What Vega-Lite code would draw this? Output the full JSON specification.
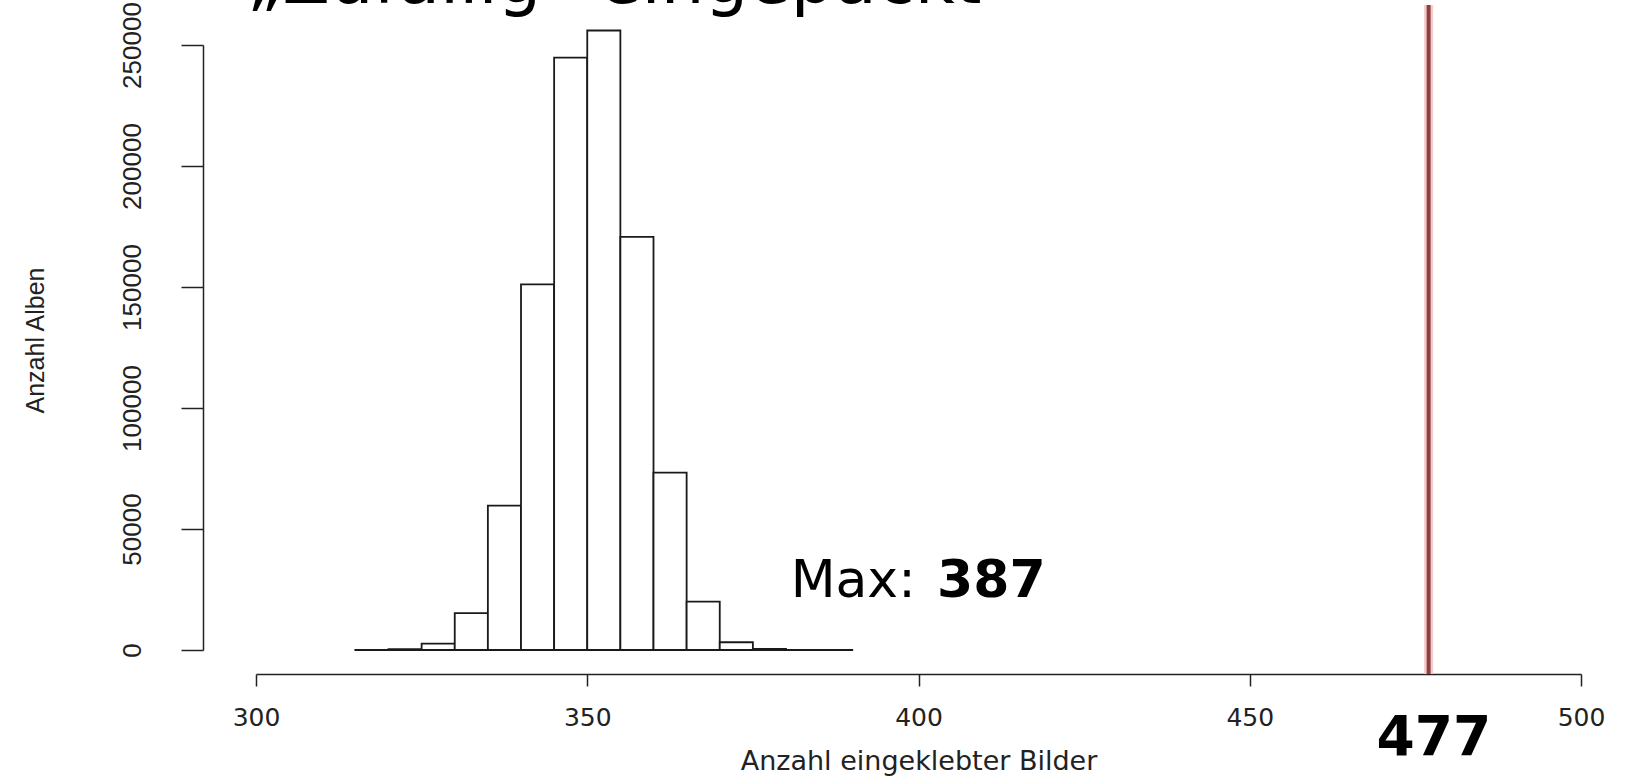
{
  "$schema": "https://vega.github.io/schema/vega-lite/v6.json",
  "width": 1325,
  "height": 605,
  "autosize": {"type": "none"},
  "padding": {"left": 256, "top": 45, "right": 44, "bottom": 127},
  "background": "white",
  "config": {"view": {"stroke": null}, "font": "DejaVu Sans"},
  "datasets": {
    "bins": [
      {"bin_start": 315, "bin_end": 320, "count": 20},
      {"bin_start": 320, "bin_end": 325, "count": 300},
      {"bin_start": 325, "bin_end": 330, "count": 2600},
      {"bin_start": 330, "bin_end": 335, "count": 15200},
      {"bin_start": 335, "bin_end": 340, "count": 59700},
      {"bin_start": 340, "bin_end": 345, "count": 151100},
      {"bin_start": 345, "bin_end": 350, "count": 244800},
      {"bin_start": 350, "bin_end": 355, "count": 256000},
      {"bin_start": 355, "bin_end": 360, "count": 170700},
      {"bin_start": 360, "bin_end": 365, "count": 73300},
      {"bin_start": 365, "bin_end": 370, "count": 20000},
      {"bin_start": 370, "bin_end": 375, "count": 3200},
      {"bin_start": 375, "bin_end": 380, "count": 450},
      {"bin_start": 380, "bin_end": 385, "count": 40},
      {"bin_start": 385, "bin_end": 390, "count": 3}
    ]
  },
  "layer": [
    {
      "data": {"name": "bins"},
      "mark": {"type": "bar", "fill": "white", "stroke": "#1a1a1a", "strokeWidth": 1.8},
      "encoding": {
        "x": {
          "field": "bin_start", "type": "quantitative",
          "scale": {"domain": [300, 500], "nice": false, "zero": false},
          "axis": {
            "values": [300, 350, 400, 450, 500],
            "offset": 24, "grid": false, "labelFlush": false,
            "domainColor": "#222222", "domainWidth": 1.5,
            "tickColor": "#222222", "tickWidth": 1.5, "tickSize": 12,
            "labelFont": "DejaVu Sans", "labelFontSize": 25, "labelPadding": 19, "labelColor": "#222222",
            "title": "Anzahl eingeklebter Bilder",
            "titleFont": "DejaVu Sans", "titleFontSize": 27, "titleFontWeight": "normal", "titleColor": "#222222",
            "titleY": 95, "titleBaseline": "alphabetic"
          }
        },
        "x2": {"field": "bin_end"},
        "y": {
          "field": "count", "type": "quantitative",
          "scale": {"domain": [0, 250000], "nice": false},
          "axis": {
            "values": [0, 50000, 100000, 150000, 200000, 250000],
            "format": "d",
            "offset": 53, "grid": false,
            "domainColor": "#222222", "domainWidth": 1.5,
            "tickColor": "#222222", "tickWidth": 1.5, "tickSize": 22,
            "labelAngle": -90, "labelAlign": "center", "labelBaseline": "bottom",
            "labelFont": "Liberation Sans Narrow, Liberation Sans, sans-serif", "labelFontSize": 26, "labelPadding": 36, "labelColor": "#222222",
            "title": "Anzahl Alben",
            "titleFont": "Liberation Sans Narrow, Liberation Sans, sans-serif", "titleFontSize": 25, "titleFontWeight": "normal", "titleColor": "#222222",
            "titleX": -160, "titleY": 295, "titleBaseline": "alphabetic", "titleAngle": -90
          }
        },
        "y2": {"datum": 0}
      }
    },
    {
      "data": {"values": [{"value": 477}]},
      "mark": {"type": "rule", "color": "#f5cccc", "strokeWidth": 9},
      "encoding": {"x": {"field": "value", "type": "quantitative"}, "y": {"datum": -9917}, "y2": {"datum": 266529}}
    },
    {
      "data": {"values": [{"value": 477}]},
      "mark": {"type": "rule", "color": "#8e4040", "strokeWidth": 4},
      "encoding": {"x": {"field": "value", "type": "quantitative"}, "y": {"datum": -9917}, "y2": {"datum": 266529}}
    },
    {
      "data": {"values": [{"label": "Max:"}]},
      "mark": {"type": "text", "align": "left", "baseline": "alphabetic", "fontSize": 52, "font": "DejaVu Sans", "color": "black"},
      "encoding": {"text": {"field": "label"}, "x": {"datum": 380.7}, "y": {"datum": 22025}}
    },
    {
      "data": {"values": [{"label": "387"}]},
      "mark": {"type": "text", "align": "left", "baseline": "alphabetic", "fontSize": 52, "fontWeight": "bold", "font": "DejaVu Sans", "color": "black"},
      "encoding": {"text": {"field": "label"}, "x": {"datum": 402.8}, "y": {"datum": 22025}}
    },
    {
      "data": {"values": [{"label": "477"}]},
      "mark": {"type": "text", "align": "center", "baseline": "alphabetic", "fontSize": 55, "fontWeight": "bold", "font": "DejaVu Sans", "color": "black"},
      "encoding": {"text": {"field": "label"}, "x": {"datum": 477.8}, "y": {"datum": -43388}}
    },
    {
      "data": {"values": [{"label": "„Zufällig“ eingepackt"}]},
      "mark": {"type": "text", "align": "left", "baseline": "alphabetic", "fontSize": 69, "font": "DejaVu Sans", "color": "black"},
      "encoding": {"text": {"field": "label"}, "x": {"datum": 298.6}, "y": {"datum": 267355}}
    }
  ]
}
